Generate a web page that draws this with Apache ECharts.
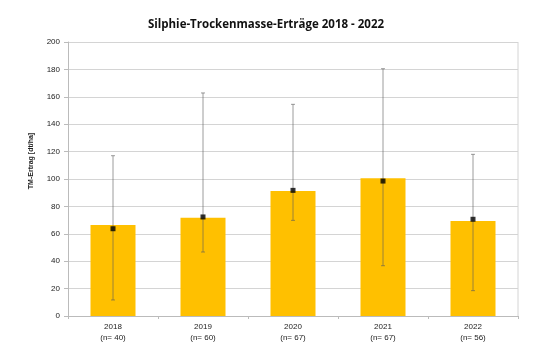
<!DOCTYPE html>
<html><head><meta charset="utf-8">
<script src="https://cdn.jsdelivr.net/npm/echarts@6/dist/echarts.min.js"></script>
<style>html,body{margin:0;padding:0;background:#fff}#c{width:550px;height:344px}</style>
</head><body><div id="c"></div>
<script>
const categories = ['2018\n(n= 40)', '2019\n(n= 60)', '2020\n(n= 67)', '2021\n(n= 67)', '2022\n(n= 56)'];
const barValues = [66.5, 71.8, 91.2, 100.5, 69.3];
const meanValues = [63.7, 72.3, 91.7, 98.5, 70.6];
const errLow = [11.7, 46.7, 69.8, 36.7, 18.5];
const errHigh = [117, 162.8, 154.5, 180.5, 118];
const yAxisTitle = 'TM-Ertrag [dt/ha]';

const chart = echarts.init(document.getElementById('c'));
chart.setOption({
  animation: false,
  title: {
    text: 'Silphie-Trockenmasse-Erträge 2018 - 2022',
    left: 261, top: 14, textAlign: 'center',
    textStyle: {fontFamily: 'Open Sans', fontSize: 11.5, fontWeight: 'bold', color: '#111'}
  },
  grid: {left: 68, right: 32, top: 42, bottom: 28},
  xAxis: {
    type: 'category', data: categories,
    axisLine: {lineStyle: {color: '#bbb'}},
    axisTick: {show: true, lineStyle: {color: '#bbb'}, length: 3},
    axisLabel: {fontFamily: 'Liberation Sans', fontSize: 8, color: '#222', lineHeight: 11, margin: 5}
  },
  yAxis: {
    type: 'value', min: 0, max: 200, interval: 20,
    axisLine: {show: true, lineStyle: {color: '#bbb'}},
    axisTick: {show: true, length: 4, lineStyle: {color: '#bbb'}},
    axisLabel: {fontFamily: 'Liberation Sans', fontSize: 8, color: '#222', margin: 8},
    splitLine: {lineStyle: {color: '#d4d4d4'}}
  },
  series: [
    {type: 'bar', data: barValues, barWidth: 45, itemStyle: {color: '#FFC000'}, z: 2},
    {
      type: 'custom', z: 3,
      data: categories.map((c, i) => [i, errLow[i], errHigh[i]]),
      renderItem: function (params, api) {
        const lo = api.coord([api.value(0), api.value(1)]);
        const hi = api.coord([api.value(0), api.value(2)]);
        const s = {stroke: 'rgba(90,90,90,0.6)', lineWidth: 1};
        return {type: 'group', children: [
          {type: 'line', shape: {x1: lo[0], y1: lo[1], x2: hi[0], y2: hi[1]}, style: s},
          {type: 'line', shape: {x1: lo[0] - 2, y1: lo[1], x2: lo[0] + 2, y2: lo[1]}, style: s},
          {type: 'line', shape: {x1: hi[0] - 2, y1: hi[1], x2: hi[0] + 2, y2: hi[1]}, style: s}
        ]};
      }
    },
    {type: 'scatter', data: meanValues, symbol: 'rect', symbolSize: 5, itemStyle: {color: '#000'}, z: 4}
  ],
  graphic: [
    {type: 'line', shape: {x1: 518, y1: 42, x2: 518, y2: 316}, style: {stroke: '#d4d4d4', lineWidth: 1}},
    {type: 'text', x: 31, y: 161, rotation: Math.PI / 2,
      style: {text: yAxisTitle, fontFamily: 'Liberation Sans', fontSize: 7, fontWeight: 'bold', fill: '#222', align: 'center', verticalAlign: 'middle'}}
  ]
});
</script></body></html>
